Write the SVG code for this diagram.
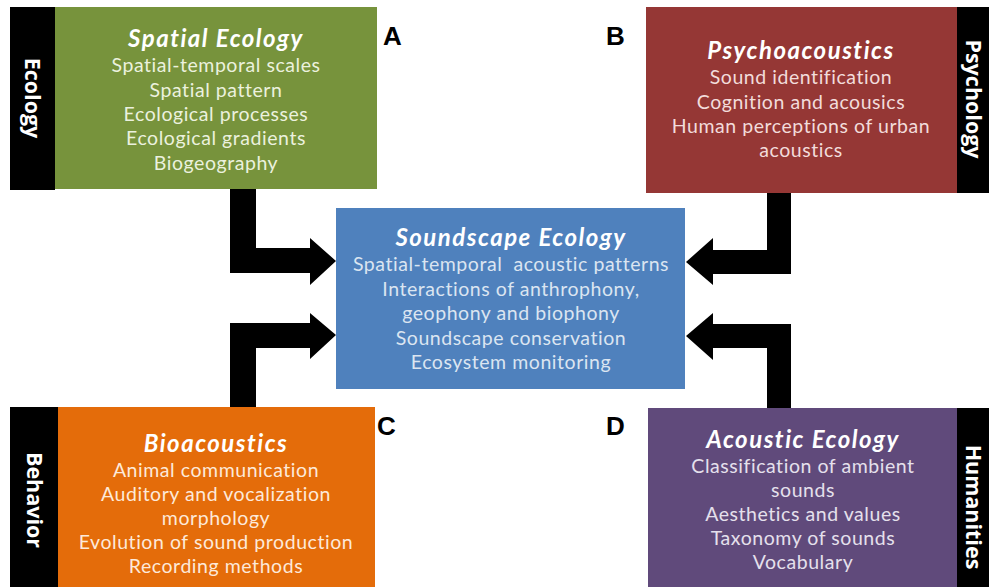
<svg xmlns="http://www.w3.org/2000/svg" width="989" height="587" viewBox="0 0 989 587">
<style>
  .strip { fill: #000000; }
  .side { font-family: "Open Sans", "Liberation Sans", sans-serif; font-weight: bold; font-size: 21.5px; fill: #ffffff; text-anchor: middle; }
  .title { font-family: Lato, "Liberation Sans", sans-serif; font-weight: bold; font-style: italic; font-size: 24px; letter-spacing: 1.5px; text-anchor: middle; fill: #ffffff; }
  .line { font-family: Lato, "Liberation Sans", sans-serif; font-size: 19.5px; letter-spacing: 0.55px; text-anchor: middle; }
  .letter { font-family: "Liberation Sans", Arial, sans-serif; font-weight: bold; font-size: 26px; fill: #000000; }
  .arrow { fill: #000000; }
</style>
<rect width="989" height="587" fill="#ffffff"/>

<g id="connectors">
  <path class="arrow" d="M230 188 L256 188 L256 248 L310 248 L310 238 L336 261 L310 285 L310 273 L230 273 Z"/>
  <path class="arrow" d="M230 408 L230 323 L310 323 L310 313 L336 335 L310 359 L310 348 L256 348 L256 408 Z"/>
  <path class="arrow" d="M791 192 L767 192 L767 250 L713 250 L713 238 L686 262 L713 285 L713 274 L791 274 Z"/>
  <path class="arrow" d="M791 410 L791 324 L713 324 L713 313 L686 336 L713 360 L713 348 L767 348 L767 410 Z"/>
</g>

<g id="node-a">
  <rect class="strip" x="10" y="7" width="45" height="183"/>
  <rect x="55" y="7" width="322" height="182" fill="#77933C"/>
  <text class="side" transform="translate(32 98) rotate(90)" dy="7">Ecology</text>
  <text class="title" x="216" y="47">Spatial Ecology</text>
  <g class="line" fill="#EBF1DE">
    <text x="216" y="72">Spatial-temporal scales</text>
    <text x="216" y="97">Spatial pattern</text>
    <text x="216" y="121">Ecological processes</text>
    <text x="216" y="145">Ecological gradients</text>
    <text x="216" y="170">Biogeography</text>
  </g>
  <text class="letter" x="383" y="45">A</text>
</g>

<g id="node-b">
  <rect x="646" y="7" width="311" height="186" fill="#953735"/>
  <rect class="strip" x="957" y="7" width="32" height="186"/>
  <text class="side" transform="translate(973 99) rotate(90)" dy="7">Psychology</text>
  <text class="title" x="801" y="59">Psychoacoustics</text>
  <g class="line" fill="#F2DCDB">
    <text x="801" y="84">Sound identification</text>
    <text x="801" y="109">Cognition and acousics</text>
    <text x="801" y="133">Human perceptions of urban</text>
    <text x="801" y="157">acoustics</text>
  </g>
  <text class="letter" x="606" y="45">B</text>
</g>

<g id="node-center">
  <rect x="336" y="208" width="349" height="181" fill="#4F81BD"/>
  <text class="title" x="511" y="246">Soundscape Ecology</text>
  <g class="line" fill="#DBE5F1">
    <text x="511" y="271" xml:space="preserve">Spatial-temporal  acoustic patterns</text>
    <text x="511" y="296">Interactions of anthrophony,</text>
    <text x="511" y="320">geophony and biophony</text>
    <text x="511" y="345">Soundscape conservation</text>
    <text x="511" y="369">Ecosystem monitoring</text>
  </g>
</g>

<g id="node-c">
  <rect class="strip" x="10" y="407" width="48" height="180"/>
  <rect x="58" y="407" width="317" height="180" fill="#E46C0A"/>
  <text class="side" transform="translate(34 500) rotate(90)" dy="7">Behavior</text>
  <text class="title" x="216" y="452">Bioacoustics</text>
  <g class="line" fill="#FDE9D9">
    <text x="216" y="477">Animal communication</text>
    <text x="216" y="501">Auditory and vocalization</text>
    <text x="216" y="525">morphology</text>
    <text x="216" y="549">Evolution of sound production</text>
    <text x="216" y="573">Recording methods</text>
  </g>
  <text class="letter" x="377" y="435">C</text>
</g>

<g id="node-d">
  <rect x="648" y="408" width="309" height="179" fill="#604A7B"/>
  <rect class="strip" x="957" y="408" width="32" height="179"/>
  <text class="side" transform="translate(973 507) rotate(90)" dy="7">Humanities</text>
  <text class="title" x="803" y="448">Acoustic Ecology</text>
  <g class="line" fill="#E5E0EC">
    <text x="803" y="473">Classification of ambient</text>
    <text x="803" y="497">sounds</text>
    <text x="803" y="521">Aesthetics and values</text>
    <text x="803" y="545">Taxonomy of sounds</text>
    <text x="803" y="569">Vocabulary</text>
  </g>
  <text class="letter" x="606" y="435">D</text>
</g>
</svg>
